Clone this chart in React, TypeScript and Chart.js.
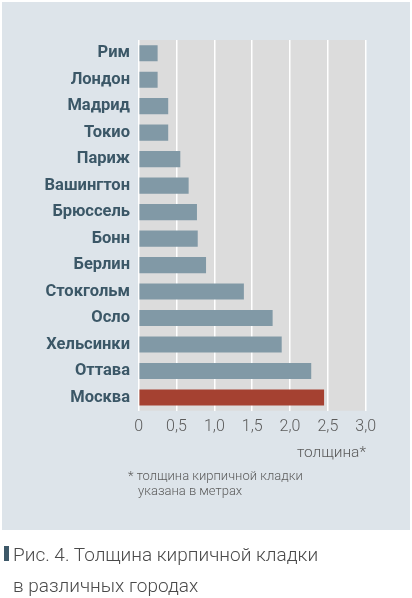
import { useEffect, useRef } from "react";
import { Chart, registerables } from "chart.js";

Chart.register(...registerables);

// Brick wall thickness by city, metres
const cities = [
  "Рим",
  "Лондон",
  "Мадрид",
  "Токио",
  "Париж",
  "Вашингтон",
  "Брюссель",
  "Бонн",
  "Берлин",
  "Стокгольм",
  "Осло",
  "Хельсинки",
  "Оттава",
  "Москва",
];
const thickness = [0.25, 0.25, 0.39, 0.39, 0.55, 0.66, 0.77, 0.78, 0.89, 1.39, 1.77, 1.89, 2.28, 2.45];
const xTickLabels = ["0", "0,5", "1,0", "1,5", "2,0", "2,5", "3,0"];
const highlightCity = "Москва";

const BAR_COLOR = "#8199a6";
const HIGHLIGHT_COLOR = "#a54131";

// gray plot background behind the bars
const plotBackground = {
  id: "plotBackground",
  beforeDraw(chart: Chart) {
    const { ctx, chartArea } = chart;
    if (!chartArea) return;
    ctx.save();
    ctx.fillStyle = "#dcdcdc";
    ctx.fillRect(chartArea.left, chartArea.top, chartArea.right - chartArea.left, chartArea.bottom - chartArea.top);
    ctx.restore();
  },
};

function WallChart() {
  const chartRef = useRef<HTMLCanvasElement>(null);
  const chartInstance = useRef<Chart | null>(null);

  useEffect(() => {
    if (!chartRef.current) return;
    if (chartInstance.current) chartInstance.current.destroy();

    const ctx = chartRef.current.getContext("2d");
    if (!ctx) return;

    chartInstance.current = new Chart(ctx, {
      type: "bar",
      data: {
        labels: cities,
        datasets: [
          {
            data: thickness,
            backgroundColor: cities.map((c) => (c === highlightCity ? HIGHLIGHT_COLOR : BAR_COLOR)),
            borderWidth: 0,
            barPercentage: 0.61,
            categoryPercentage: 1,
          },
        ],
      },
      options: {
        indexAxis: "y",
        animation: false,
        responsive: false,
        maintainAspectRatio: false,
        layout: {
          padding: { left: 0, top: 40, right: 46.3, bottom: 147.3 },
        },
        plugins: {
          legend: { display: false },
          tooltip: { enabled: false },
        },
        scales: {
          x: {
            min: 0,
            max: 3,
            border: { display: false },
            grid: { color: "#ffffff", lineWidth: 1.5, drawTicks: false },
            ticks: {
              stepSize: 0.5,
              padding: 7,
              color: "#5b5b5b",
              font: { family: "Roboto", size: 16, weight: "300" },
              callback: (_v, i) => xTickLabels[i],
            },
            afterFit: (axis) => {
              axis.height = 40;
            },
          },
          y: {
            border: { display: false },
            grid: { display: false, drawTicks: false },
            ticks: {
              padding: 8.7,
              color: "#3b5767",
              font: { family: "Roboto", size: 16.5, weight: "bold" },
            },
            afterFit: (axis) => {
              axis.width = 138.7;
            },
          },
        },
      },
      plugins: [plotBackground],
    });

    return () => {
      if (chartInstance.current) {
        chartInstance.current.destroy();
        chartInstance.current = null;
      }
    };
  }, []);

  return (
    <div style={{ position: "fixed", left: 0, top: 0, width: 412, height: 598, background: "#ffffff", fontFamily: "Roboto" }}>
      <div style={{ position: "absolute", left: 2, top: 2, width: 408, height: 528, background: "#dde4ea" }} />
      <canvas ref={chartRef} width={412} height={598} style={{ position: "absolute", left: 0, top: 0, width: 412, height: 598 }} />
      <div
        style={{
          position: "absolute",
          right: 46,
          top: 443,
          fontSize: 15.5,
          lineHeight: "18px",
          fontWeight: 300,
          color: "#5b5b5b",
        }}
      >
        толщина*
      </div>
      <div
        style={{
          position: "absolute",
          left: 128,
          top: 468,
          fontSize: 13,
          lineHeight: "15px",
          fontWeight: 300,
          color: "#5b5b5b",
        }}
      >
        <div>* толщина кирпичной кладки</div>
        <div style={{ paddingLeft: 10 }}>указана в метрах</div>
      </div>
      <div style={{ position: "absolute", left: 4, top: 546, width: 5, height: 15, background: "#3d5868" }} />
      <div
        style={{
          position: "absolute",
          left: 13,
          top: 539,
          fontSize: 19,
          lineHeight: "31px",
          fontWeight: 300,
          color: "#4a4a4a",
        }}
      >
        <div>Рис. 4. Толщина кирпичной кладки</div>
        <div>в различных городах</div>
      </div>
    </div>
  );
}

export default function App() {
  return <WallChart />;
}
